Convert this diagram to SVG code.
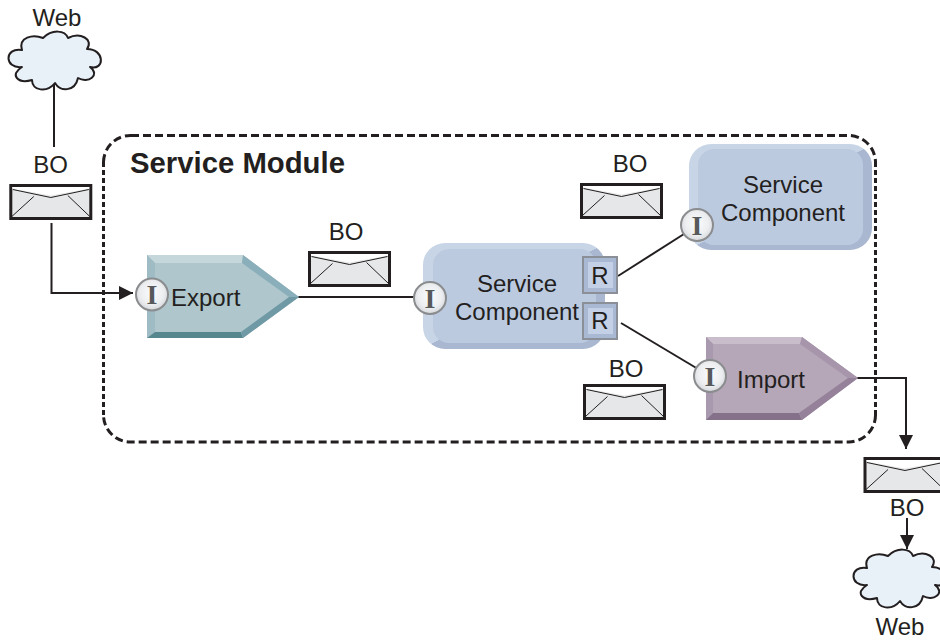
<svg xmlns="http://www.w3.org/2000/svg" xmlns:xlink="http://www.w3.org/1999/xlink" width="940" height="640" viewBox="0 0 940 640">
<style>
text{font-family:"Liberation Sans",Arial,sans-serif;font-size:24px;fill:#231f20}
.c{text-anchor:middle}
.conn{fill:none;stroke:#231f20;stroke-width:2}
.mod{fill:none;stroke:#231f20;stroke-width:3}
.ifc{fill:url(#ball);stroke:#8a8c8e;stroke-width:2}
.ig{font-family:"Liberation Serif",serif;font-size:28px;font-weight:bold;fill:#58595b;text-anchor:middle}
.rb{fill:#a9b9d4;stroke:#8a8f98;stroke-width:2}
.ri{fill:#c3d0e6}
.cloud{fill:#e8f0f8;stroke:#231f20;stroke-width:2;stroke-linejoin:round}
.co{fill:url(#bevel)}
.cf{fill:#bccae0}
</style>
<defs>
<radialGradient id="ball" cx="0.5" cy="0.45" r="0.6"><stop offset="0" stop-color="#fbfbfc"/><stop offset="0.6" stop-color="#eceef0"/><stop offset="1" stop-color="#cfd2d6"/></radialGradient>
<linearGradient id="bevel" x1="0" y1="0" x2="1" y2="1"><stop offset="0.5" stop-color="#c8d5e7"/><stop offset="0.5" stop-color="#a9b7d1"/></linearGradient>
<marker id="arr" markerUnits="userSpaceOnUse" markerWidth="14" markerHeight="14" viewBox="0 0 14 14" refX="14" refY="7" orient="auto"><path d="M0 0L14 7L0 14Z" fill="#231f20"/></marker>
<g id="env">
<rect x="0" y="0" width="80" height="33" fill="#e6e7e8" stroke="#231f20" stroke-width="3"/>
<path d="M1.500 1.500H78.500V3L40 10L1.500 3Z" fill="#fff"/>
<path d="M2 4L40 12L78 4" fill="none" stroke="#231f20" stroke-width="1"/>
<path d="M1 31L23 11M79 31L57 10" fill="none" stroke="#231f20" stroke-width="1"/>
</g>
<path id="cl" class="cloud" d="M22 50C18 37 33 34 43 38C52 29 65 30 68 38C80 32 94 39 87 49C105 49 105 71 90 67C101 75 88 84 78 78C75 92 60 92 55 83C47 93 32 91 32 80C18 84 9 75 22 67C4 69 4 47 22 50Z"/>
</defs>

<g id="service-module">
<path class="mod" stroke-dasharray="8 4" d="M131 135.500H849A27 27 0 0 1 875.500 162M875.500 415A27 27 0 0 1 849 442H131A27 27 0 0 1 103.500 415M103.500 162A27 27 0 0 1 131 135.500"/>
<path class="mod" stroke-dasharray="5 3" d="M103.500 162V415M875.500 162V415"/>
<text x="130" y="173" style="font-size:29.300px;font-weight:bold">Service Module</text>
</g>

<g id="connectors">
<path class="conn" d="M54 85V147"/>
<path class="conn" d="M51.500 223V293H133" marker-end="url(#arr)"/>
<path class="conn" d="M297 297H416"/>
<path class="conn" d="M618 276L684 234"/>
<path class="conn" d="M621 323L698 369"/>
<path class="conn" d="M856 378H906V449" marker-end="url(#arr)"/>
<path class="conn" d="M907 518V549" marker-end="url(#arr)"/>
</g>

<g id="web-in"><use xlink:href="#cl" href="#cl"/><text class="c" x="57" y="26">Web</text></g>
<g id="bo-1"><use xlink:href="#env" href="#env" x="10.800" y="185.500"/><text class="c" x="50.500" y="173">BO</text></g>
<g id="bo-2"><use xlink:href="#env" href="#env" x="309.500" y="252.500"/><text class="c" x="346" y="240">BO</text></g>
<g id="bo-3"><use xlink:href="#env" href="#env" x="581.500" y="184.500"/><text class="c" x="630" y="172">BO</text></g>
<g id="bo-4"><use xlink:href="#env" href="#env" x="584.500" y="385.500"/><text class="c" x="626" y="377">BO</text></g>
<g id="bo-5"><use xlink:href="#env" href="#env" x="865" y="458.500"/><text class="c" x="907" y="516">BO</text></g>
<g id="web-out"><use xlink:href="#cl" href="#cl" x="845" y="518"/><text class="c" x="900" y="635">Web</text></g>

<g id="export">
<path d="M147 255H243L299 297L243 338H147Z" fill="#afc6cd"/>
<path d="M147 255H243L242 263H155Z" fill="#c6d7db"/>
<path d="M147 255L155 263V332L147 338Z" fill="#9fbcc5"/>
<path d="M147 338L155 332H241L243 338Z" fill="#56878f"/>
<path d="M243 255L299 297L289 297L242 263Z" fill="#8aafba"/>
<path d="M243 338L299 297L289 297L241 332Z" fill="#6f9aa5"/>
<circle class="ifc" cx="152" cy="294.500" r="16"/><text class="ig" x="152" y="304">I</text>
<text x="171" y="306">Export</text>
</g>

<g id="component-1">
<rect class="co" x="423" y="243" width="182" height="106" rx="22"/>
<rect class="cf" x="433" y="249" width="163" height="94" rx="16"/>
<circle class="ifc" cx="430" cy="298" r="16"/><text class="ig" x="430" y="307.500">I</text>
<text class="c" x="517" y="292">Service</text>
<text class="c" x="517" y="320">Component</text>
<rect class="rb" x="583" y="257" width="34" height="36"/><rect class="ri" x="588" y="262" width="25" height="26"/>
<text class="c" x="600" y="284">R</text>
<rect class="rb" x="583" y="303" width="34" height="36"/><rect class="ri" x="588" y="308" width="25" height="26"/>
<text class="c" x="600" y="329">R</text>
</g>

<g id="component-2">
<rect class="co" x="689" y="144" width="183" height="106" rx="22"/>
<rect class="cf" x="698" y="149" width="165" height="96" rx="16"/>
<circle class="ifc" cx="697" cy="225" r="16"/><text class="ig" x="697" y="234.500">I</text>
<text class="c" x="783" y="193">Service</text>
<text class="c" x="783" y="221">Component</text>
</g>

<g id="import">
<path d="M706 337H802L858 378L802 420H706Z" fill="#b5a6b8"/>
<path d="M706 337H802L800 344H713Z" fill="#c9bdcb"/>
<path d="M706 337L713 344V413L706 420Z" fill="#a999ae"/>
<path d="M706 420L713 413H799L802 420Z" fill="#85728a"/>
<path d="M802 337L858 378L848 378L800 344Z" fill="#a795ab"/>
<path d="M802 420L858 378L848 378L799 413Z" fill="#95829a"/>
<circle class="ifc" cx="710" cy="376" r="16"/><text class="ig" x="710" y="385.500">I</text>
<text x="737" y="388">Import</text>
</g>
</svg>
